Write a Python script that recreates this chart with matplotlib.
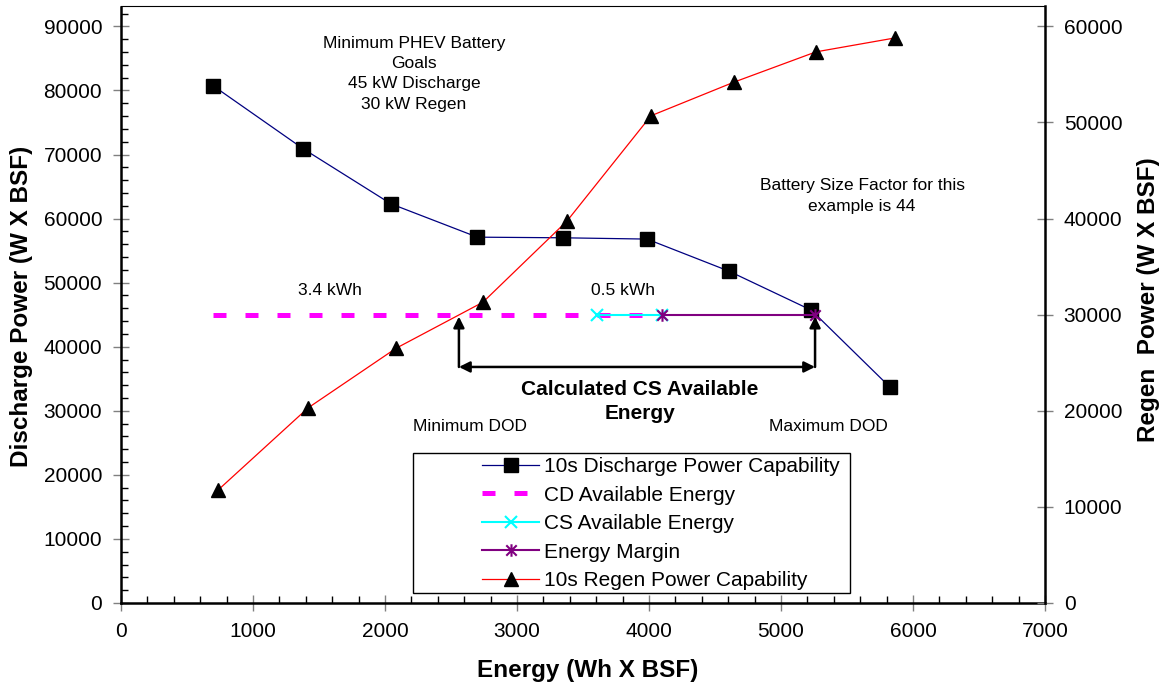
import matplotlib
matplotlib.use("Agg")
import matplotlib.pyplot as plt
from matplotlib.path import Path
from matplotlib.patches import Rectangle

plt.rcParams['font.family'] = ['Liberation Sans', 'DejaVu Sans']

# ---- data ----
discharge_x = [700, 1380, 2045, 2700, 3350, 3985, 4605, 5230, 5825]
discharge_y = [80700, 70900, 62300, 57100, 57000, 56800, 51800, 45700, 33700]
regen_x = [735, 1417, 2083, 2742, 3379, 4015, 4644, 5265, 5864]
regen_y = [11750, 20300, 26500, 31300, 39750, 50700, 54200, 57350, 58800]
cd_x = [697, 4098]
cd_y = [45000, 45000]
cs_x = [3606, 4098]
cs_y = [45000, 45000]
margin_x = [4098, 5258]
margin_y = [45000, 45000]
min_dod_x = 2560
max_dod_x = 5258
arrow_base_y = 36840
arrow_tip_y = 44700
x_ticks = [0, 1000, 2000, 3000, 4000, 5000, 6000, 7000]
left_ticks = [0, 10000, 20000, 30000, 40000, 50000, 60000, 70000, 80000, 90000]
right_ticks = [0, 10000, 20000, 30000, 40000, 50000, 60000]
labels = ["10s Discharge Power Capability", "CD Available Energy",
          "CS Available Energy", "Energy Margin", "10s Regen Power Capability"]

W, H = 1163, 690
fig = plt.figure(figsize=(W / 100, H / 100), dpi=100)
ax = fig.add_axes([121 / W, 1 - 603 / H, (1045 - 121) / W, (603 - 6.5) / H])
ax2 = ax.twinx()

ax.set_xlim(0, 7000)
ax.set_ylim(0, 93100)
ax2.set_ylim(0, 62070)

# asterisk marker
star = Path([(-1, -1), (1, 1), (-1, 1), (1, -1), (0, -1.2), (0, 1.2)],
            [Path.MOVETO, Path.LINETO, Path.MOVETO, Path.LINETO, Path.MOVETO, Path.LINETO])

l1, = ax.plot(discharge_x, discharge_y, color='#000080', lw=0.9, marker='s',
              ms=10, mfc='black', mec='black', zorder=3)
l2, = ax.plot(cd_x, cd_y, color='#FF00FF', lw=3.6, dashes=(2.6, 3.8),
              dash_capstyle='butt', zorder=2)
l3, = ax.plot(cs_x, cs_y, color='#00FFFF', lw=1.5, marker='x', ms=9, mew=1.5, zorder=3)
l4, = ax.plot(margin_x, margin_y, color='#800080', lw=1.5, marker=star, ms=9,
              mfc='none', mec='#800080', mew=1.5, zorder=3)
l5, = ax2.plot(regen_x, regen_y, color='#FF0000', lw=0.9, marker='^', ms=10,
               mfc='black', mec='black', zorder=3)

# arrows
aprops = dict(arrowstyle='-|>', color='black', lw=1.8, mutation_scale=16,
              shrinkA=0, shrinkB=0)
ax.annotate('', xy=(min_dod_x, arrow_tip_y), xytext=(min_dod_x, arrow_base_y), arrowprops=aprops)
ax.annotate('', xy=(max_dod_x, arrow_tip_y), xytext=(max_dod_x, arrow_base_y), arrowprops=aprops)
aprops2 = dict(arrowstyle='<|-|>', color='black', lw=1.8, mutation_scale=16,
               shrinkA=0, shrinkB=0)
ax.annotate('', xy=(max_dod_x, arrow_base_y), xytext=(min_dod_x, arrow_base_y), arrowprops=aprops2)

# text
ax.text(2220, 82600, "Minimum PHEV Battery\nGoals\n45 kW Discharge\n30 kW Regen",
        ha='center', va='center', fontsize=12.5, linespacing=1.45)
ax.text(5614, 63500, "Battery Size Factor for this\nexample is 44",
        ha='center', va='center', fontsize=12.5, linespacing=1.45)
ax.text(1583, 48700, "3.4 kWh", ha='center', va='center', fontsize=12.5)
ax.text(3803, 48700, "0.5 kWh", ha='center', va='center', fontsize=12.5)
ax.text(3932, 31500, "Calculated CS Available\nEnergy", ha='center', va='center',
        fontsize=15, fontweight='bold', linespacing=1.35)
ax.text(2644, 27470, "Minimum DOD", ha='center', va='center', fontsize=12.5)
ax.text(5356, 27470, "Maximum DOD", ha='center', va='center', fontsize=12.5)

# ticks
ax.set_xticks(x_ticks)
ax.set_xticks(range(0, 7001, 200), minor=True)
ax.set_yticks(left_ticks)
ax.set_yticks(range(0, 92001, 2000), minor=True)
ax2.set_yticks(right_ticks)
ax2.set_yticks([], minor=True)
ax.tick_params(axis='both', which='major', direction='inout', length=11, width=1,
               color='#808080', labelsize=15)
ax.tick_params(axis='x', which='major', pad=8)
ax.tick_params(axis='y', which='major', pad=8)
ax.tick_params(axis='both', which='minor', direction='in', length=5, width=1, color='black')
ax.tick_params(axis='y', which='minor', right=False)
ax2.tick_params(axis='y', which='major', direction='inout', length=11, width=1,
                color='#808080', labelsize=15, pad=8)

for s in ['left', 'bottom']:
    ax.spines[s].set_linewidth(1.8)
ax.spines['right'].set_visible(False)
ax.spines['top'].set_linewidth(0.8)
for s in ['left', 'bottom', 'top']:
    ax2.spines[s].set_visible(False)
ax2.spines['right'].set_linewidth(1.8)

# axis labels
fig.text(588 / W, 1 - 670 / H, "Energy (Wh X BSF)", ha='center', va='center',
         fontsize=17.5, fontweight='bold')
fig.text(22 / W, 1 - 306 / H, "Discharge Power (W X BSF)", ha='center', va='center',
         rotation=90, fontsize=17.5, fontweight='bold')
fig.text(1148 / W, 1 - 300 / H, "Regen  Power (W X BSF)", ha='center', va='center',
         rotation=90, fontsize=17.5, fontweight='bold')

# legend box
box = Rectangle((413 / W, 1 - 593 / H), (850 - 413) / W, (593 - 453) / H,
                transform=fig.transFigure, facecolor='white', edgecolor='black',
                lw=1.0, zorder=4.9)
fig.add_artist(box)
leg = fig.legend([l1, l2, l3, l4, l5], labels, loc='upper left',
                 bbox_to_anchor=(482 / W, 1 - 457 / H), frameon=False,
                 fontsize=15, handlelength=2.74, handletextpad=0.25,
                 labelspacing=0.46, borderpad=0, borderaxespad=0)
leg.set_zorder(5)

fig.savefig("out.png", dpi=100)
